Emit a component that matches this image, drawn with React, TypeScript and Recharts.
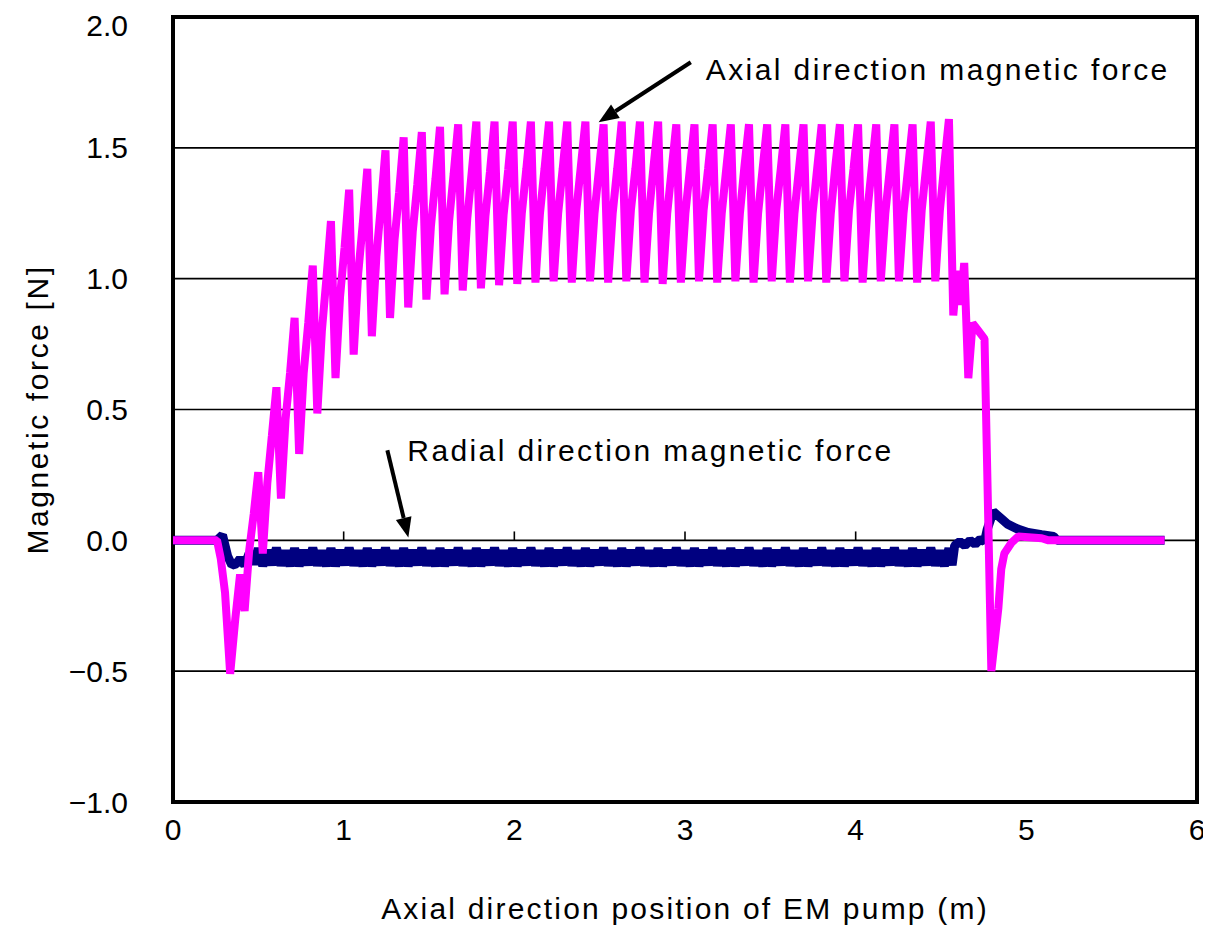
import React from "react";
import {
  LineChart,
  Line,
  XAxis,
  YAxis,
  CartesianGrid,
  ReferenceArea,
  ReferenceLine,
  ReferenceDot,
} from "recharts";

const xTicks = [0, 1, 2, 3, 4, 5, 6];
const yTicks = [-1, -0.5, 0, 0.5, 1, 1.5, 2];

// the pump teeth: position of the first peak and pitch along the axis (m)
const cycleStart = 0.393;
const cyclePitch = 0.1065;

// axial force, one row per tooth: [peak, trough, rise, upper step]
const axialCycles = [
  [-0.13, -0.27, -0.04, 0.1],
  [0.26, -0.05, 0.22, 0.4],
  [0.585, 0.16, 0.46, 0.64],
  [0.85, 0.33, 0.64, 0.83],
  [1.05, 0.485, 0.8, 1.0],
  [1.22, 0.62, 0.93, 1.12],
  [1.34, 0.71, 1.02, 1.21],
  [1.42, 0.78, 1.085, 1.28],
  [1.49, 0.85, 1.15, 1.33],
  [1.54, 0.89, 1.18, 1.36],
  [1.56, 0.92, 1.2, 1.38],
  [1.58, 0.94, 1.22, 1.4],
  [1.59, 0.955, 1.23, 1.41],
  [1.6, 0.963, 1.24, 1.41],
  [1.6, 0.975, 1.245, 1.415],
  [1.6, 0.98, 1.25, 1.42],
  [1.6, 0.985, 1.25, 1.42],
  [1.6, 0.99, 1.25, 1.42],
  [1.6, 0.985, 1.26, 1.43],
  [1.6, 0.99, 1.25, 1.42],
  [1.59, 0.985, 1.25, 1.42],
  [1.6, 0.99, 1.26, 1.42],
  [1.6, 0.985, 1.25, 1.43],
  [1.6, 0.98, 1.25, 1.42],
  [1.59, 0.985, 1.25, 1.42],
  [1.59, 0.99, 1.26, 1.42],
  [1.59, 0.985, 1.25, 1.42],
  [1.59, 0.99, 1.25, 1.43],
  [1.59, 0.985, 1.25, 1.42],
  [1.59, 0.99, 1.26, 1.42],
  [1.59, 0.985, 1.25, 1.42],
  [1.59, 0.99, 1.25, 1.42],
  [1.59, 0.985, 1.25, 1.43],
  [1.59, 0.99, 1.26, 1.42],
  [1.59, 0.985, 1.25, 1.42],
  [1.59, 0.99, 1.25, 1.42],
  [1.59, 0.99, 1.25, 1.42],
  [1.59, 0.985, 1.26, 1.43],
  [1.6, 0.99, 1.26, 1.44],
];
const axialLastPeak = 1.61;
const axialHead = [
  [0, 0],
  [0.258, 0],
  [0.28, -0.07],
  [0.305, -0.2],
  [0.335, -0.51],
  [0.365, -0.3],
];
const axialTail = [
  [4.572, 0.86],
  [4.595, 1.03],
  [4.615, 0.9],
  [4.636, 1.06],
  [4.66, 0.62],
  [4.685, 0.83],
  [4.72, 0.8],
  [4.755, 0.77],
  [4.795, -0.5],
  [4.836, -0.26],
  [4.853, -0.11],
  [4.871, -0.05],
  [4.912, -0.01],
  [4.953, 0.015],
  [5.09, 0.008],
  [5.13, 0],
  [5.81, 0],
];

// radial force, same teeth (two ripples per tooth)
const radialCycles = [
  [-0.07, -0.095, -0.05, -0.09],
  [-0.031, -0.098, -0.038, -0.094],
  [-0.029, -0.096, -0.04, -0.098],
  [-0.031, -0.098, -0.038, -0.094],
  [-0.029, -0.096, -0.04, -0.098],
  [-0.031, -0.098, -0.038, -0.094],
  [-0.029, -0.096, -0.04, -0.098],
  [-0.031, -0.098, -0.038, -0.094],
  [-0.029, -0.096, -0.04, -0.098],
  [-0.031, -0.098, -0.038, -0.094],
  [-0.029, -0.096, -0.04, -0.098],
  [-0.031, -0.098, -0.038, -0.094],
  [-0.029, -0.096, -0.04, -0.098],
  [-0.031, -0.098, -0.038, -0.094],
  [-0.029, -0.096, -0.04, -0.098],
  [-0.031, -0.098, -0.038, -0.094],
  [-0.029, -0.096, -0.04, -0.098],
  [-0.031, -0.098, -0.038, -0.094],
  [-0.029, -0.096, -0.04, -0.098],
  [-0.031, -0.098, -0.038, -0.094],
  [-0.029, -0.096, -0.04, -0.098],
  [-0.031, -0.098, -0.038, -0.094],
  [-0.029, -0.096, -0.04, -0.098],
  [-0.031, -0.098, -0.038, -0.094],
  [-0.029, -0.096, -0.04, -0.098],
  [-0.031, -0.098, -0.038, -0.094],
  [-0.029, -0.096, -0.04, -0.098],
  [-0.031, -0.098, -0.038, -0.094],
  [-0.029, -0.096, -0.04, -0.098],
  [-0.031, -0.098, -0.038, -0.094],
  [-0.029, -0.096, -0.04, -0.098],
  [-0.031, -0.098, -0.038, -0.094],
  [-0.029, -0.096, -0.04, -0.098],
  [-0.031, -0.098, -0.038, -0.094],
  [-0.029, -0.096, -0.04, -0.098],
  [-0.031, -0.098, -0.038, -0.094],
  [-0.029, -0.096, -0.04, -0.098],
  [-0.031, -0.098, -0.038, -0.094],
  [-0.029, -0.096, -0.04, -0.098],
];
const radialLastPeak = -0.031;
const radialHead = [
  [0, 0],
  [0.258, 0],
  [0.29, 0.02],
  [0.32, -0.06],
  [0.345, -0.095],
  [0.37, -0.09],
];
const radialTail = [
  [4.565, -0.095],
  [4.58, -0.02],
  [4.61, -0.005],
  [4.64, -0.02],
  [4.67, 0.0],
  [4.7, -0.015],
  [4.73, 0.005],
  [4.755, -0.005],
  [4.77, 0.04],
  [4.806, 0.11],
  [4.85, 0.085],
  [4.89, 0.062],
  [4.95, 0.043],
  [5.01, 0.03],
  [5.09, 0.022],
  [5.16, 0.015],
  [5.18, 0],
  [5.81, 0],
];

type Pt = { x: number; y: number };

function buildSeries(head: number[][], cycles: number[][], last: number, tail: number[][]): Pt[] {
  const pts: Pt[] = head.map(([x, y]) => ({ x, y }));
  cycles.forEach((vals, k) => {
    vals.forEach((v, j) => {
      pts.push({ x: cycleStart + k * cyclePitch + (j * cyclePitch) / vals.length, y: v });
    });
  });
  pts.push({ x: cycleStart + cycles.length * cyclePitch, y: last });
  tail.forEach(([x, y]) => pts.push({ x, y }));
  return pts;
}

const axialData = buildSeries(axialHead, axialCycles, axialLastPeak, axialTail);
const radialData = buildSeries(radialHead, radialCycles, radialLastPeak, radialTail);

const FONT = "'Liberation Sans', Arial, sans-serif";

const fmtY = (v: number) => v.toFixed(1).replace("-", "\u2212");

const Arrow = (props: any) => {
  const { x1, y1, x2, y2 } = props;
  const ang = Math.atan2(y2 - y1, x2 - x1);
  const len = 20;
  const half = 8;
  const bx = x2 - len * Math.cos(ang);
  const by = y2 - len * Math.sin(ang);
  const px = -Math.sin(ang) * half;
  const py = Math.cos(ang) * half;
  return (
    <g>
      <line x1={x1} y1={y1} x2={bx} y2={by} stroke="#000" strokeWidth={4} />
      <polygon points={`${x2},${y2} ${bx + px},${by + py} ${bx - px},${by - py}`} fill="#000" />
    </g>
  );
};

const noteText = (text: string) => (props: any) => (
  <text
    x={props.cx}
    y={props.cy}
    fontFamily={FONT}
    fontSize={30}
    letterSpacing={2.4}
    fill="#000"
  >
    {text}
  </text>
);

const YLabel = (props: any) => {
  const vb = props.viewBox || { x: 0, y: 0, width: 0, height: 0 };
  const cx = vb.x + 29;
  const cy = vb.y + vb.height / 2;
  return (
    <text
      x={cx}
      y={cy}
      transform={`rotate(-90 ${cx} ${cy})`}
      textAnchor="middle"
      dominantBaseline="central"
      fontFamily={FONT}
      fontSize={30}
      letterSpacing={2.6}
      fill="#000"
    >
      Magnetic force [N]
    </text>
  );
};

export default function App() {
  return (
    <div style={{ width: 1203, height: 917 }}>
      <LineChart
        width={1203}
        height={917}
        margin={{ top: 9, right: 14, bottom: 0, left: 0 }}
      >
        <CartesianGrid horizontal vertical={false} stroke="#000" strokeWidth={1.6} />
        <XAxis
          dataKey="x"
          type="number"
          domain={[0, 6]}
          ticks={xTicks}
          allowDataOverflow
          height={123}
          axisLine={false}
          tickLine={false}
          tickSize={0}
          tickMargin={17}
          tick={{ fill: "#000", fontSize: 30, fontFamily: FONT }}
          label={{
            value: "Axial direction position of EM pump (m)",
            position: "insideBottom",
            offset: 6,
            fill: "#000",
            fontSize: 30,
            fontFamily: FONT,
            letterSpacing: 2.2,
          }}
        />
        <YAxis
          type="number"
          domain={[-1, 2]}
          ticks={yTicks}
          allowDataOverflow
          width={165}
          axisLine={false}
          tickLine={false}
          tickSize={0}
          tickMargin={45}
          tickFormatter={fmtY}
          tick={{ fill: "#000", fontSize: 30, fontFamily: FONT }}
          label={<YLabel />}
        />
        <ReferenceArea
          x1={0}
          x2={6}
          y1={-1}
          y2={2}
          fill="none"
          stroke="#000"
          strokeWidth={4}
          ifOverflow="visible"
        />
        {xTicks.slice(1, -1).map((t) => (
          <ReferenceLine
            key={t}
            segment={[
              { x: t, y: 0 },
              { x: t, y: 0.034 },
            ]}
            stroke="#000"
            strokeWidth={1.6}
          />
        ))}
        <Line
          data={radialData}
          dataKey="y"
          type="linear"
          stroke="#000080"
          strokeWidth={9}
          strokeLinejoin="bevel"
          dot={false}
          activeDot={false}
          isAnimationActive={false}
        />
        <Line
          data={axialData}
          dataKey="y"
          type="linear"
          stroke="#FF00FF"
          strokeWidth={8}
          strokeLinejoin="bevel"
          dot={false}
          activeDot={false}
          isAnimationActive={false}
        />
        <ReferenceLine
          segment={[
            { x: 3.034, y: 1.827 },
            { x: 2.494, y: 1.598 },
          ]}
          shape={Arrow}
          ifOverflow="visible"
        />
        <ReferenceLine
          segment={[
            { x: 1.256, y: 0.344 },
            { x: 1.379, y: 0.011 },
          ]}
          shape={Arrow}
          ifOverflow="visible"
        />
        <ReferenceDot
          x={3.122}
          y={1.758}
          r={0}
          ifOverflow="visible"
          shape={noteText("Axial direction magnetic force")}
        />
        <ReferenceDot
          x={1.373}
          y={0.302}
          r={0}
          ifOverflow="visible"
          shape={noteText("Radial direction magnetic force")}
        />
      </LineChart>
    </div>
  );
}
